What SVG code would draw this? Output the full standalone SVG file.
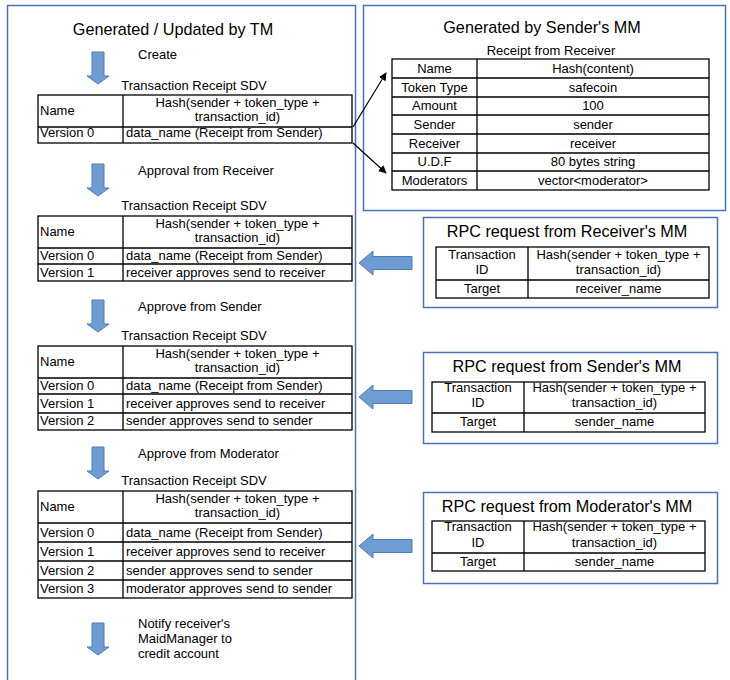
<svg xmlns="http://www.w3.org/2000/svg" width="730" height="680" viewBox="0 0 730 680">
  <style>
    text { font-family: "Liberation Sans", Arial, sans-serif; fill: #000; }
    .title { font-size: 16.2px; text-anchor: middle; }
    .cap { font-size: 13px; text-anchor: middle; }
    .lbl { font-size: 13px; }
    .t { font-size: 13px; }
    .c { font-size: 13px; text-anchor: middle; }
    .frame { fill: none; stroke: #4a72b4; stroke-width: 1.5; }
    .grid { fill: none; stroke: #000; stroke-width: 1.3; }
    .blk { fill: #6f9dd3; stroke: #4f7db6; stroke-width: 1; }
    .ptr { stroke: #000; stroke-width: 1.2; fill: none; marker-end: url(#head); }
  </style>
  <defs>
    <marker id="head" viewBox="0 0 10 10" refX="9" refY="5" markerWidth="8" markerHeight="8" orient="auto" markerUnits="userSpaceOnUse">
      <path d="M0,0 L10,5 L0,10 z" fill="#000"/>
    </marker>
    <path id="down" d="M-6,0 H6 V24 H11 L0,32 L-11,24 H-6 Z"/>
    <path id="left" d="M0,0 L14,-12 V-6.5 H53 V6.5 H14 V12 Z"/>
  </defs>

  <rect width="730" height="680" fill="#fff"/>

  <!-- Transaction manager column -->
  <g id="tm-panel">
    <path class="frame" d="M7.5,681 V5.5 H355.5 V681"/>
    <text class="title" x="173" y="35">Generated / Updated by TM</text>
  </g>

  <!-- Step 1: create -->
  <g id="step-create">
    <use href="#down" class="blk" x="98" y="52"/>
    <text class="lbl" x="138" y="59">Create</text>
    <text class="cap" x="194" y="90">Transaction Receipt SDV</text>
    <rect class="grid" x="38" y="95" width="314" height="48"/>
    <path class="grid" d="M123,95 V143 M38,127 H352"/>
    <text class="t" x="40" y="115">Name</text>
    <text class="c" x="237.5" y="107">Hash(sender + token_type +</text>
    <text class="c" x="237.5" y="121">transaction_id)</text>
    <text class="t" x="40" y="137">Version 0</text>
    <text class="t" x="126" y="137">data_name (Receipt from Sender)</text>
  </g>

  <!-- Step 2: receiver approval -->
  <g id="step-receiver">
    <use href="#down" class="blk" x="98" y="164"/>
    <text class="lbl" x="138" y="175">Approval from Receiver</text>
    <text class="cap" x="194" y="210">Transaction Receipt SDV</text>
    <rect class="grid" x="38" y="216" width="314" height="65"/>
    <path class="grid" d="M123,216 V281 M38,248 H352 M38,264 H352"/>
    <text class="t" x="40" y="236">Name</text>
    <text class="c" x="237.5" y="228">Hash(sender + token_type +</text>
    <text class="c" x="237.5" y="242">transaction_id)</text>
    <text class="t" x="40" y="260">Version 0</text>
    <text class="t" x="126" y="260">data_name (Receipt from Sender)</text>
    <text class="t" x="40" y="277">Version 1</text>
    <text class="t" x="126" y="277">receiver approves send to receiver</text>
  </g>

  <!-- Step 3: sender approval -->
  <g id="step-sender">
    <use href="#down" class="blk" x="98" y="300"/>
    <text class="lbl" x="138" y="311">Approve from Sender</text>
    <text class="cap" x="194" y="340">Transaction Receipt SDV</text>
    <rect class="grid" x="38" y="346" width="314" height="84"/>
    <path class="grid" d="M123,346 V430 M38,378 H352 M38,394 H352 M38,413 H352"/>
    <text class="t" x="40" y="366">Name</text>
    <text class="c" x="237.5" y="358">Hash(sender + token_type +</text>
    <text class="c" x="237.5" y="372">transaction_id)</text>
    <text class="t" x="40" y="390">Version 0</text>
    <text class="t" x="126" y="390">data_name (Receipt from Sender)</text>
    <text class="t" x="40" y="408">Version 1</text>
    <text class="t" x="126" y="408">receiver approves send to receiver</text>
    <text class="t" x="40" y="425">Version 2</text>
    <text class="t" x="126" y="425">sender approves send to sender</text>
  </g>

  <!-- Step 4: moderator approval -->
  <g id="step-moderator">
    <use href="#down" class="blk" x="98" y="447"/>
    <text class="lbl" x="138" y="458">Approve from Moderator</text>
    <text class="cap" x="194" y="485">Transaction Receipt SDV</text>
    <rect class="grid" x="38" y="491" width="314" height="107"/>
    <path class="grid" d="M123,491 V598 M38,523 H352 M38,542 H352 M38,561 H352 M38,580 H352"/>
    <text class="t" x="40" y="511">Name</text>
    <text class="c" x="237.5" y="503">Hash(sender + token_type +</text>
    <text class="c" x="237.5" y="517">transaction_id)</text>
    <text class="t" x="40" y="537">Version 0</text>
    <text class="t" x="126" y="537">data_name (Receipt from Sender)</text>
    <text class="t" x="40" y="556">Version 1</text>
    <text class="t" x="126" y="556">receiver approves send to receiver</text>
    <text class="t" x="40" y="575">Version 2</text>
    <text class="t" x="126" y="575">sender approves send to sender</text>
    <text class="t" x="40" y="593">Version 3</text>
    <text class="t" x="126" y="593">moderator approves send to sender</text>
  </g>

  <!-- Step 5: notify -->
  <g id="step-notify">
    <use href="#down" class="blk" x="98" y="623"/>
    <text class="lbl" x="138" y="628">Notify receiver's</text>
    <text class="lbl" x="138" y="643">MaidManager to</text>
    <text class="lbl" x="138" y="658">credit account</text>
  </g>

  <!-- Receipt produced by the sender's MaidManager -->
  <g id="sender-receipt">
    <rect class="frame" x="363.5" y="5.5" width="362" height="205"/>
    <text class="title" x="542" y="33">Generated by Sender's MM</text>
    <text class="cap" x="551" y="55">Receipt from Receiver</text>
    <rect class="grid" x="392" y="59" width="317" height="131"/>
    <path class="grid" d="M477,59 V190 M392,78 H709 M392,97 H709 M392,115 H709 M392,134 H709 M392,153 H709 M392,171 H709"/>
    <text class="c" x="434.5" y="73">Name</text>
    <text class="c" x="593" y="73">Hash(content)</text>
    <text class="c" x="434.5" y="92">Token Type</text>
    <text class="c" x="593" y="92">safecoin</text>
    <text class="c" x="434.5" y="110">Amount</text>
    <text class="c" x="593" y="110">100</text>
    <text class="c" x="434.5" y="129">Sender</text>
    <text class="c" x="593" y="129">sender</text>
    <text class="c" x="434.5" y="148">Receiver</text>
    <text class="c" x="593" y="148">receiver</text>
    <text class="c" x="434.5" y="166">U.D.F</text>
    <text class="c" x="593" y="166">80 bytes string</text>
    <text class="c" x="434.5" y="185">Moderators</text>
    <text class="c" x="593" y="185">vector&lt;moderator&gt;</text>
  </g>

  <!-- RPC requests -->
  <g id="rpc-receiver">
    <rect class="frame" x="423.5" y="217.5" width="294" height="90"/>
    <text class="title" x="567" y="237">RPC request from Receiver's MM</text>
    <rect class="grid" x="436" y="247" width="273" height="51"/>
    <path class="grid" d="M528,247 V298 M436,280 H709"/>
    <text class="c" x="482" y="259">Transaction</text>
    <text class="c" x="482" y="274">ID</text>
    <text class="c" x="618.5" y="259">Hash(sender + token_type +</text>
    <text class="c" x="618.5" y="274">transaction_id)</text>
    <text class="c" x="482" y="293">Target</text>
    <text class="c" x="618.5" y="293">receiver_name</text>
  </g>

  <g id="rpc-sender">
    <rect class="frame" x="423.5" y="352.5" width="294" height="91"/>
    <text class="title" x="567" y="372">RPC request from Sender's MM</text>
    <rect class="grid" x="432" y="382" width="273" height="50"/>
    <path class="grid" d="M524,382 V432 M432,413 H705"/>
    <text class="c" x="478" y="392">Transaction</text>
    <text class="c" x="478" y="407">ID</text>
    <text class="c" x="614.5" y="392">Hash(sender + token_type +</text>
    <text class="c" x="614.5" y="407">transaction_id)</text>
    <text class="c" x="478" y="426">Target</text>
    <text class="c" x="614.5" y="426">sender_name</text>
  </g>

  <g id="rpc-moderator">
    <rect class="frame" x="423.5" y="492.5" width="294" height="91"/>
    <text class="title" x="567" y="512">RPC request from Moderator's MM</text>
    <rect class="grid" x="432" y="521" width="273" height="50"/>
    <path class="grid" d="M524,521 V571 M432,553 H705"/>
    <text class="c" x="478" y="531">Transaction</text>
    <text class="c" x="478" y="547">ID</text>
    <text class="c" x="614.5" y="531">Hash(sender + token_type +</text>
    <text class="c" x="614.5" y="547">transaction_id)</text>
    <text class="c" x="478" y="566">Target</text>
    <text class="c" x="614.5" y="566">sender_name</text>
  </g>

  <!-- Connectors -->
  <g id="connectors">
    <line class="ptr" x1="353" y1="127" x2="386" y2="73"/>
    <line class="ptr" x1="353" y1="143" x2="386" y2="173"/>
    <use href="#left" class="blk" x="359" y="263"/>
    <use href="#left" class="blk" x="359" y="397"/>
    <use href="#left" class="blk" x="359" y="546"/>
  </g>
</svg>
